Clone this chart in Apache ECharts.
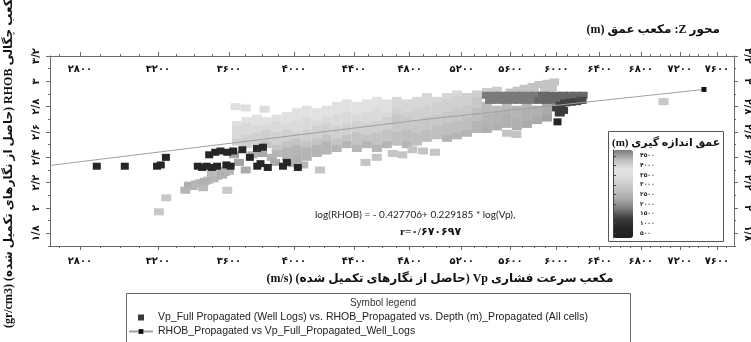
<!DOCTYPE html>
<html><head><meta charset="utf-8">
<script src="https://cdn.jsdelivr.net/npm/echarts@6/dist/echarts.min.js"></script>
<style>html,body{margin:0;padding:0;background:#fff}#c{width:751px;height:342px}</style>
</head><body><div id="c"></div>
<script>
// ---------- axis ticks ----------
const xTicks = [2800,3200,3600,4000,4400,4800,5200,5600,6000,6400,6800,7200,7600];
const yTicks = [1.8,2,2.2,2.4,2.6,2.8,3,3.2];
const depthTicks = [500,1000,1500,2000,2500,3000,3500,4000,4500];
const depthColors = ['#202020','#262626','#3d3d3d','#7c7c7c','#a9a9a9','#c3c3c3','#d7d7d7','#e3e3e3','#bdbdbd','#7a7a7a'];
const xRange = [2657, 7790];
const yRange = [1.7, 3.2];
const depthRange = [250, 4800];

// ---------- cells: [Vp (m/s), RHOB (gr/cm3), depth (m)] ----------
const lowerGrayCells = [
[3350,2.14,2500],[3390,2.17,2500],[3435,2.20,2500],[3480,2.22,2500],[3530,2.25,2500],[3575,2.28,2500],
[3450,2.16,2600],[3590,2.14,2900],[3545,2.30,2500],[3245,2.08,2900],[3205,1.97,2900],[3370,2.18,2400],
[3410,2.19,2500],[3460,2.21,2400],[3510,2.23,2500],[3560,2.26,2400],[3500,2.27,2600],[3600,2.29,2500],
[3630,2.42,2200],[3660,2.36,2200],[3700,2.30,2300],[3740,2.42,2400],[3800,2.43,2300],[3860,2.40,2400],
[3880,2.36,2300],[3990,2.35,2400],[4060,2.34,2500]
];
const cloudCells = [
[3648,2.66,3700],[3648,2.62,3400],[3648,2.57,3400],[3648,2.52,3100],
[3707,2.69,3700],[3707,2.64,3400],[3707,2.59,3400],[3707,2.55,3100],[3707,2.50,3100],
[3768,2.71,3700],[3768,2.66,3700],[3768,2.62,3400],[3768,2.57,3100],[3768,2.52,3100],
[3829,2.69,3700],[3829,2.64,3400],[3829,2.59,3100],[3829,2.55,3100],[3829,2.50,2800],
[3891,2.71,3700],[3891,2.66,3400],[3891,2.62,3400],[3891,2.57,3100],[3891,2.52,3100],[3891,2.47,2800],[3891,2.43,2500],
[3955,2.73,3700],[3955,2.69,3700],[3955,2.64,3400],[3955,2.59,3100],[3955,2.55,3100],[3955,2.50,2800],[3955,2.45,2500],[3955,2.40,2500],
[4018,2.76,3700],[4018,2.71,3700],[4018,2.66,3400],[4018,2.62,3400],[4018,2.57,3100],[4018,2.52,2800],[4018,2.47,2500],[4018,2.43,2500],[4018,2.38,2400],
[4083,2.78,3700],[4083,2.73,3700],[4083,2.69,3400],[4083,2.64,3400],[4083,2.59,3100],[4083,2.55,3100],[4083,2.50,2800],[4083,2.45,2500],[4083,2.40,2500],
[4149,2.76,3700],[4149,2.71,3700],[4149,2.66,3400],[4149,2.62,3100],[4149,2.57,3100],[4149,2.52,2800],[4149,2.47,2500],[4149,2.43,2500],
[4214,2.78,3700],[4214,2.73,3700],[4214,2.69,3400],[4214,2.64,3100],[4214,2.59,3100],[4214,2.55,2800],[4214,2.50,2500],[4214,2.45,2500],
[4282,2.81,3700],[4282,2.76,3700],[4282,2.71,3400],[4282,2.66,3400],[4282,2.62,3100],[4282,2.57,3100],[4282,2.52,2800],[4282,2.47,2500],
[4350,2.83,3700],[4350,2.78,3700],[4350,2.73,3400],[4350,2.69,3400],[4350,2.64,3100],[4350,2.59,3100],[4350,2.55,2800],[4350,2.50,2500],
[4420,2.81,3700],[4420,2.76,3700],[4420,2.71,3400],[4420,2.66,3100],[4420,2.62,3100],[4420,2.57,2800],[4420,2.52,2800],[4420,2.47,2500],
[4490,2.83,3700],[4490,2.78,3700],[4490,2.73,3400],[4490,2.69,3400],[4490,2.64,3100],[4490,2.59,3100],[4490,2.55,2800],[4490,2.50,2500],
[4561,2.85,3700],[4561,2.81,3700],[4561,2.76,3400],[4561,2.71,3400],[4561,2.66,3100],[4561,2.62,3100],[4561,2.57,2800],[4561,2.52,2800],[4561,2.47,2500],
[4633,2.83,3700],[4633,2.78,3700],[4633,2.73,3400],[4633,2.69,3100],[4633,2.64,3100],[4633,2.59,2800],[4633,2.55,2800],[4633,2.50,2500],
[4705,2.85,3300],[4705,2.81,3300],[4705,2.76,3100],[4705,2.71,2900],[4705,2.66,2900],[4705,2.62,2900],[4705,2.57,2700],[4705,2.52,2700],
[4779,2.83,3300],[4779,2.78,3300],[4779,2.73,3100],[4779,2.69,2900],[4779,2.64,2900],[4779,2.59,2700],[4779,2.55,2700],[4779,2.50,2500],
[4854,2.85,3300],[4854,2.81,3300],[4854,2.76,3100],[4854,2.71,3100],[4854,2.66,2900],[4854,2.62,2900],[4854,2.57,2700],[4854,2.52,2700],
[4929,2.88,3300],[4929,2.83,3300],[4929,2.78,3100],[4929,2.73,3100],[4929,2.69,2900],[4929,2.64,2900],[4929,2.59,2700],[4929,2.55,2700],
[5006,2.85,3300],[5006,2.81,3100],[5006,2.76,3100],[5006,2.71,2900],[5006,2.66,2900],[5006,2.62,2700],[5006,2.57,2700],
[5084,2.88,3300],[5084,2.83,3100],[5084,2.78,3100],[5084,2.73,2900],[5084,2.69,2900],[5084,2.64,2700],[5084,2.59,2700],[5084,2.55,2500],
[5162,2.90,3300],[5162,2.85,3100],[5162,2.81,3100],[5162,2.76,2900],[5162,2.71,2900],[5162,2.66,2700],[5162,2.62,2700],[5162,2.57,2500],
[5242,2.88,3100],[5242,2.83,3100],[5242,2.78,2900],[5242,2.73,2900],[5242,2.69,2700],[5242,2.64,2700],[5242,2.59,2500],
[5322,2.90,3100],[5322,2.85,2900],[5322,2.81,2900],[5322,2.76,2700],[5322,2.71,2700],[5322,2.66,2500],[5322,2.62,2500]
];
const lightOutlierCells = [
[3640,2.80,3600],[3700,2.79,3600],[3815,2.78,3500],[4170,2.30,2800],[4480,2.36,2800],[4560,2.40,2800],
[4675,2.43,2800],[4745,2.42,2800],[4820,2.46,2800],[4900,2.45,2800],[4990,2.44,2800],[5570,2.59,2800],
[5650,2.58,2800],[7030,2.84,2900]
];
const belowBandCells = [
[5403,2.81,2600],[5403,2.76,2600],[5403,2.71,2500],[5403,2.66,2500],[5403,2.62,2400],
[5486,2.78,2600],[5486,2.73,2500],[5486,2.69,2500],[5486,2.64,2400],
[5569,2.81,2600],[5569,2.76,2500],[5569,2.71,2400],[5569,2.66,2400],
[5654,2.78,2500],[5654,2.73,2500],[5654,2.69,2400],[5654,2.64,2400],
[5740,2.81,2500],[5740,2.76,2400],[5740,2.71,2400],[5740,2.66,2300],
[5828,2.78,2400],[5828,2.73,2400],[5828,2.69,2300],
[5916,2.81,2300],[5916,2.76,2300],[5916,2.71,2200]
];
const aboveBandCells = [
[5403,2.92,3000],[5486,2.93,3000],[5600,2.915,2800],[5660,2.93,2800],[5720,2.945,2800],[5790,2.96,2800],
[5850,2.975,2800],[5920,2.985,2800],[5980,2.995,2800],[5700,2.91,2800],[5800,2.925,2800],[5900,2.94,2800],[5960,2.95,2800]
];
const bandCells = [
[5403,2.89,1750],[5460,2.89,1750],[5520,2.89,1750],[5580,2.89,1750],[5640,2.89,1750],[5700,2.89,1750],[5760,2.89,1750],[5820,2.89,1750],
[5880,2.89,1600],[5940,2.89,1600],[6000,2.89,1600],[6060,2.89,1600],[6120,2.89,1600],[6180,2.89,1600],[6240,2.89,1600],
[5430,2.85,1750],[5490,2.85,1750],[5550,2.85,1750],[5610,2.85,1750],[5670,2.85,1750],[5730,2.85,1750],[5790,2.85,1750],
[5850,2.85,1600],[5910,2.85,1600],[5970,2.85,1600],[6030,2.85,1600],[6090,2.85,1600],[6150,2.85,1600],[6210,2.85,1600]
];
const deepCells = [
[6006,2.79,1250],[6030,2.75,1250],[6040,2.81,1300],[6080,2.83,1300],[6130,2.835,1300],[6180,2.84,1300],[6230,2.85,1350],[6060,2.77,1200]
];
const shallowCells = [
[2883,2.33,700],[3025,2.33,700],[3195,2.33,700],[3215,2.34,700],[3243,2.40,700],
[3420,2.33,700],[3445,2.32,700],[3470,2.33,700],[3500,2.32,700],[3530,2.33,700],
[3485,2.42,700],[3520,2.44,700],[3550,2.45,750],[3590,2.44,700],[3625,2.45,700],[3680,2.46,750],[3725,2.40,700],[3768,2.47,800],[3805,2.48,800],
[3585,2.34,700],[3610,2.33,700],[3770,2.33,700],[3790,2.35,750],[3835,2.32,700],[3930,2.33,700],[3955,2.36,700],[4025,2.32,700],[6010,2.68,600]
];
// fitted line: [Vp, RHOB]
const regressionLine = [[2657,2.336],[4877,2.695],[7458,2.936]];

// ---------- texts ----------
const scatterName = 'Vp_Full Propagated (Well Logs) vs. RHOB_Propagated vs. Depth (m)_Propagated (All cells)';
const lineName = 'RHOB_Propagated vs Vp_Full_Propagated_Well_Logs';
const yTitle = 'مکعب چگالی RHOB (حاصل از نگارهای تکمیل شده) (gr/cm3)';
const xTitle = 'مکعب سرعت فشاری Vp (حاصل از نگارهای تکمیل شده) (m/s)';
const zTitle = 'محور Z: مکعب عمق (m)';
const cbTitle = 'عمق اندازه گیری (m)';
const eqText = 'log(RHOB) = - 0.427706+ 0.229185 * log(Vp),';
const rText = 'r=۰/۶۷۰۶۹۷';
const legendTitle = 'Symbol legend';

// ---------- helpers ----------
const VP_SHIFT = 1000;
const ux = v => Math.log10(v + VP_SHIFT);
const FA = '۰۱۲۳۴۵۶۷۸۹';
const fa = s => String(s).replace(/[0-9]/g, d => FA[+d]).replace('.', '/');
const rtl = s => '\u202B' + s + '\u202C';
const xFmt = v => fa(Math.round((Math.pow(10, v) - VP_SHIFT) / 100) * 100);
const yFmt = v => fa(+(+v).toFixed(2));

const xMinor = []; for (let v = 2700; v <= 7700; v += 100) xMinor.push(ux(v));
const yMinor = []; for (let i = 17; i <= 32; i++) yMinor.push(i / 10);

const allCells = [].concat(lowerGrayCells, cloudCells, lightOutlierCells, belowBandCells, aboveBandCells, bandCells, deepCells, shallowCells);

const axisColor = '#6a6a6a';
const lineSt = {color: axisColor, width: 1};
const labelFont = {fontSize: 10, fontWeight: 'bold', color: '#111', fontFamily: 'DejaVu Sans'};
const persFont = "'Liberation Serif', 'DejaVu Sans', serif";

function xAx(pos, major, extra) {
  return Object.assign({
    type: 'value', gridIndex: 0, position: pos, min: ux(xRange[0]), max: ux(xRange[1]),
    axisLine: {show: major, onZero: false, lineStyle: lineSt},
    axisTick: {show: true, customValues: major ? xTicks.map(ux) : xMinor, length: major ? 4 : 2, lineStyle: lineSt},
    axisLabel: major ? Object.assign({show: true, customValues: xTicks.map(ux), formatter: xFmt}, labelFont) : {show: false},
    splitLine: {show: false}
  }, extra || {});
}
function yAx(pos, major, extra) {
  return Object.assign({
    type: 'value', gridIndex: 0, position: pos, min: yRange[0], max: yRange[1],
    axisLine: {show: major, onZero: false, lineStyle: lineSt},
    axisTick: {show: true, customValues: major ? yTicks : yMinor, length: major ? 4 : 2, lineStyle: lineSt},
    axisLabel: major ? Object.assign({show: true, customValues: yTicks, formatter: yFmt, rotate: pos === 'left' ? 90 : -90, margin: 9}, labelFont) : {show: false},
    splitLine: {show: false}
  }, extra || {});
}

const chart = echarts.init(document.getElementById('c'), null, {renderer: 'canvas'});
chart.setOption({
  animation: false,
  backgroundColor: '#fff',
  grid: [
    {left: 50, right: 17, top: 56, bottom: 96, outerBoundsMode: 'none', containLabel: false},
    {left: 613, top: 150, width: 20, height: 88, outerBoundsMode: 'none', containLabel: false}
  ],
  xAxis: [
    xAx('bottom', true, {axisLabel: Object.assign({show: true, customValues: xTicks.map(ux), formatter: xFmt, margin: 10}, labelFont)}),
    xAx('top', true, {axisLabel: Object.assign({show: true, inside: true, customValues: xTicks.map(ux), formatter: xFmt, margin: 8}, labelFont)}),
    xAx('bottom', false),
    xAx('top', false),
    {type: 'value', gridIndex: 1, show: false, min: 0, max: 1}
  ],
  yAxis: [
    yAx('left', true),
    yAx('right', true),
    yAx('left', false),
    yAx('right', false),
    {type: 'value', gridIndex: 1, position: 'right', min: depthRange[0], max: depthRange[1], z: 8,
     axisLine: {show: true, lineStyle: {color: '#444', width: 1}},
     axisTick: {show: true, customValues: depthTicks, length: 3, lineStyle: {color: '#444'}},
     axisLabel: {show: true, customValues: depthTicks, formatter: v => fa(v), fontSize: 6, fontWeight: 'bold', color: '#222', fontFamily: 'DejaVu Sans', margin: 7},
     splitLine: {show: false}}
  ],
  visualMap: {
    type: 'continuous', min: depthRange[0], max: depthRange[1], dimension: 2, seriesIndex: 0,
    inRange: {color: depthColors}, calculable: false, text: null, showLabel: false,
    left: 608, top: 145, itemWidth: 20, itemHeight: 88, padding: 5, z: 6, hoverLink: false
  },
  legend: {
    show: true, orient: 'vertical', left: 128, top: 312, height: 60, itemGap: 3, itemWidth: 24, itemHeight: 6,
    selectedMode: false, padding: 0,
    textStyle: {fontSize: 10.5, fontFamily: 'Liberation Sans', color: '#222'},
    data: [
      {name: scatterName, icon: 'path://M0,0L10,0L10,10L0,10Z'},
      {name: lineName}
    ]
  },
  graphic: [
    {type: 'text', x: 9, y: 160, rotation: Math.PI / 2, style: {text: rtl(yTitle), font: 'bold 12px ' + persFont, fill: '#111', textAlign: 'center', textVerticalAlign: 'middle'}},
    {type: 'text', x: 440, y: 279, style: {text: rtl(xTitle), font: 'bold 12px ' + persFont, fill: '#111', textAlign: 'center', textVerticalAlign: 'middle'}},
    {type: 'text', x: 720, y: 30, style: {text: rtl(zTitle), font: 'bold 12px ' + persFont, fill: '#111', textAlign: 'right', textVerticalAlign: 'middle'}},
    {type: 'text', x: 315, y: 215, z: 5, style: {text: eqText, font: '10px Lato, sans-serif', fill: '#222', textAlign: 'left', textVerticalAlign: 'middle'}},
    {type: 'text', x: 400, y: 232, z: 5, style: {text: rText, font: 'bold 11px ' + persFont, fill: '#111', textAlign: 'left', textVerticalAlign: 'middle'}},
    {type: 'rect', z: 3, shape: {x: 608.5, y: 131.5, width: 115, height: 110}, style: {fill: '#fff', stroke: '#555', lineWidth: 1}},
    {type: 'text', x: 612, y: 143, z: 7, style: {text: rtl(cbTitle), font: 'bold 11px ' + persFont, fill: '#111', textAlign: 'left', textVerticalAlign: 'middle'}},
    {type: 'rect', z: 3, shape: {x: 126.5, y: 293.5, width: 504, height: 60}, style: {fill: '#fff', stroke: '#666', lineWidth: 1}},
    {type: 'text', x: 383, y: 303, z: 5, style: {text: legendTitle, font: '10px "Liberation Sans", sans-serif', fill: '#333', textAlign: 'center', textVerticalAlign: 'middle'}}
  ],
  series: [
    {
      name: scatterName, type: 'scatter', xAxisIndex: 0, yAxisIndex: 0,
      symbol: 'rect', symbolSize: v => (v[2] < 1000 ? [8, 7] : [10, 7]), itemStyle: {color: '#3a3a3a', opacity: 1},
      data: allCells.map(c => [ux(c[0]), c[1], c[2]]), z: 2
    },
    {
      name: lineName, type: 'line', xAxisIndex: 0, yAxisIndex: 0, z: 4,
      symbol: 'rect', symbolSize: 5, showSymbol: true,
      lineStyle: {color: '#a0a0a0', width: 1}, itemStyle: {color: '#111'},
      data: regressionLine.map((p, i) => i < regressionLine.length - 1 ? {value: [ux(p[0]), p[1]], symbol: 'none'} : [ux(p[0]), p[1]])
    }
  ]
});
</script></body></html>
